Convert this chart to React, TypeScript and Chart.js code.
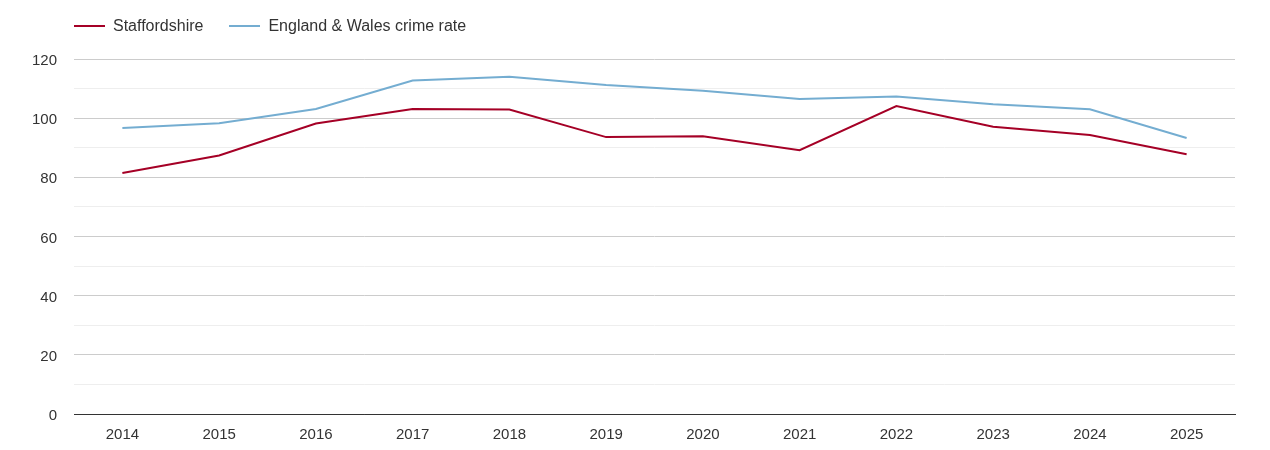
import { useEffect, useRef } from 'react'
import { Chart, registerables } from 'chart.js'

Chart.register(...registerables)

const years = ['2014', '2015', '2016', '2017', '2018', '2019', '2020', '2021', '2022', '2023', '2024', '2025']
const staffordshire = [81.5, 87.4, 98.2, 103.1, 102.9, 93.6, 93.9, 89.2, 104.1, 97.1, 94.3, 87.8]
const englandWales = [96.7, 98.3, 103.1, 112.7, 114.0, 111.2, 109.3, 106.5, 107.3, 104.7, 103.0, 93.3]

const RED = '#a50026'
const BLUE = '#74add1'
const FONT = '"Liberation Sans", Arial, sans-serif'

const legendItems = [
  { label: 'Staffordshire', color: RED },
  { label: 'England & Wales crime rate', color: BLUE },
]

export default function App() {
  const canvasRef = useRef<HTMLCanvasElement>(null)

  useEffect(() => {
    if (!canvasRef.current) return
    const chart = new Chart(canvasRef.current, {
      type: 'line',
      data: {
        labels: years,
        datasets: [
          {
            label: 'Staffordshire',
            data: staffordshire,
            borderColor: RED,
            backgroundColor: RED,
            borderWidth: 2,
            pointRadius: 0,
            tension: 0,
          },
          {
            label: 'England & Wales crime rate',
            data: englandWales,
            borderColor: BLUE,
            backgroundColor: BLUE,
            borderWidth: 2,
            pointRadius: 0,
            tension: 0,
          },
        ],
      },
      options: {
        animation: false,
        responsive: false,
        maintainAspectRatio: false,
        layout: { padding: { top: 59, left: 32, right: 35, bottom: 8 } },
        plugins: {
          legend: { display: false },
          tooltip: { enabled: false },
        },
        scales: {
          x: {
            offset: true,
            grid: { display: false, drawTicks: false },
            border: { display: true, color: '#333', width: 1 },
            ticks: { color: '#333', font: { family: FONT, size: 15 }, padding: 12, maxRotation: 0 },
            afterFit: scale => { scale.height = 28 },
          },
          y: {
            min: 0,
            max: 120,
            border: { display: false },
            grid: {
              drawTicks: false,
              color: ctx => (ctx.tick.value === 0 ? '#333' : ctx.tick.value % 20 === 0 ? '#cccccc' : '#eeeeee'),
            },
            ticks: {
              stepSize: 10,
              padding: 17,
              labelOffset: 2,
              color: '#333',
              font: { family: FONT, size: 15 },
              callback: val => (Number(val) % 20 === 0 ? String(val) : ''),
            },
            afterFit: scale => { scale.width = 42 },
          },
        },
      },
    })
    return () => chart.destroy()
  }, [])

  return (
    <div style={{ position: 'fixed', top: 0, left: 0, width: 1270, height: 450, background: '#fff' }}>
      <div style={{
        position: 'absolute', top: 15, left: 74, display: 'flex', gap: 26,
        fontFamily: FONT, fontSize: 16, color: '#333', lineHeight: '22px',
      }}>
        {legendItems.map(item => (
          <div key={item.label} style={{ display: 'flex', alignItems: 'center', gap: 8 }}>
            <div style={{ width: 31, height: 2, background: item.color }} />
            <span>{item.label}</span>
          </div>
        ))}
      </div>
      <canvas ref={canvasRef} width={1270} height={450} style={{ display: 'block' }} />
    </div>
  )
}
